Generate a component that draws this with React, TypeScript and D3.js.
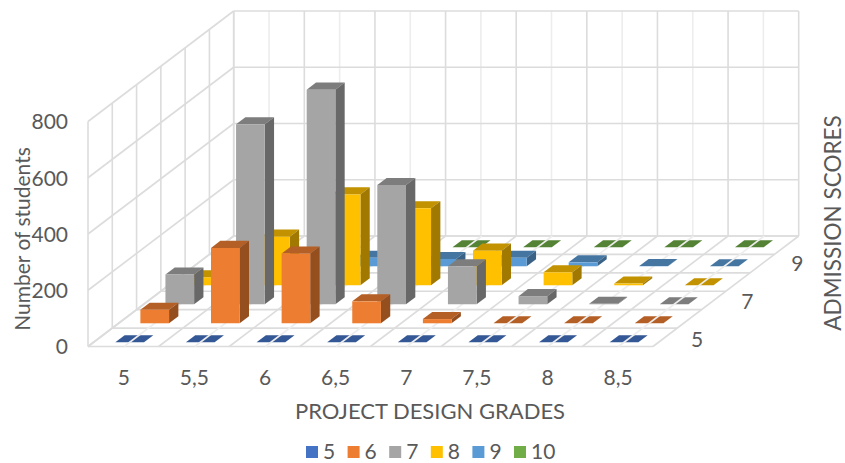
import React from "react";
import * as d3 from "d3";

// Grades along the width axis and admission scores along the depth axis.
const grades = ["5", "5,5", "6", "6,5", "7", "7,5", "8", "8,5"];
const scores = ["5", "6", "7", "8", "9", "10"];
const depthLabels = ["5", "7", "9"];
const valueTicks = [0, 200, 400, 600, 800];

// Number of students per grade, one list per admission score.
const score5 = [0, 0, 0, 0, 0, 0, 0, 0];
const score6 = [48, 268, 248, 78, 15, 0, 0, 0];
const score7 = [106, 640, 763, 424, 135, 29, 2, 0];
const score8 = [28, 173, 323, 274, 123, 46, 6, 0];
const score9 = [10, 20, 30, 26, 30, 14, 1, 0];
const score10 = [0, 0, 0, 0, 0, 0, 0, 0];
const seriesValues = [score5, score6, score7, score8, score9, score10];
const seriesColors = ["#4472c4", "#ed7d31", "#a5a5a5", "#ffc000", "#5b9bd5", "#70ad47"];

const WIDTH = 845;
const HEIGHT = 463;
const FONT = "Lato, 'Open Sans', sans-serif";
const TEXT = "#595959";
const GRID = "#dcdcdc";
const GRID_MINOR = "#ededed";

// Oblique 3D projection: x runs across the floor, z runs to the back wall.
const FLOOR_LEFT = 88;
const FLOOR_RIGHT = 653;
const FLOOR_FRONT = 346.5;
const DEPTH_X = 145.7;
const DEPTH_Y = 110.5;
const BAR_DEPTH = 0.064;

const xBand = d3.scaleBand<string>().domain(grades).range([FLOOR_LEFT, FLOOR_RIGHT]);
const zBand = d3.scaleBand<string>().domain(scores).range([0.038, 1.07]);
const heightScale = d3.scaleLinear().domain([0, 800]).range([0, 225]);
const barWidth = xBand.bandwidth() * 0.406;

const project = (x: number, z: number, h = 0): [number, number] => [
  x + DEPTH_X * z,
  FLOOR_FRONT - DEPTH_Y * z - h,
];
const pathOf = d3.line<[number, number]>();

const shade = (color: string, k: number) => {
  const c = d3.rgb(color);
  return d3.rgb(c.r * k, c.g * k, c.b * k).formatHex();
};

type Bar = { x: number; z: number; h: number; color: string; key: string };

function BarShape({ x, z, h, color }: Bar) {
  const x1 = x + barWidth;
  const z1 = z + BAR_DEPTH;
  return (
    <g>
      <path
        d={pathOf([project(x, z, h), project(x1, z, h), project(x1, z1, h), project(x, z1, h)]) + "Z"}
        fill={shade(color, 0.76)}
      />
      {h > 0 && (
        <path
          d={pathOf([project(x1, z, 0), project(x1, z1, 0), project(x1, z1, h), project(x1, z, h)]) + "Z"}
          fill={shade(color, 0.63)}
        />
      )}
      {h > 0 && (
        <path
          d={pathOf([project(x, z, 0), project(x1, z, 0), project(x1, z, h), project(x, z, h)]) + "Z"}
          fill={color}
        />
      )}
    </g>
  );
}

const Line = ({ a, b, color = GRID, w = 1.6 }: { a: [number, number]; b: [number, number]; color?: string; w?: number }) => (
  <line x1={a[0]} y1={a[1]} x2={b[0]} y2={b[1]} stroke={color} strokeWidth={w} />
);

export default function App() {
  const step = xBand.step();
  const bars: Bar[] = scores
    .flatMap((s, si) =>
      grades.map((g, gi) => ({
        key: `${s}-${g}`,
        x: (xBand(g) as number) + (step - barWidth) / 2 + 0.8,
        z: zBand(s) as number,
        h: heightScale(seriesValues[si][gi]),
        color: seriesColors[si],
      }))
    )
    .sort((a, b) => b.z - a.z);
  const flat = bars.filter((b) => b.h === 0);
  const raised = bars.filter((b) => b.h > 0);
  const wallTop = heightScale(800);
  const xEdges = d3.range(grades.length + 1).map((i) => FLOOR_LEFT + i * step);
  const xMids = grades.map((g) => (xBand(g) as number) + step / 2);
  const zEdges = d3.range(scores.length + 1).map((i) => i / scores.length);

  return (
    <svg
      width={WIDTH}
      height={HEIGHT}
      viewBox={`0 0 ${WIDTH} ${HEIGHT}`}
      style={{ position: "absolute", left: 0, top: 0, background: "#fff" }}
      fontFamily={FONT}
      fill={TEXT}
    >
      {/* Back wall */}
      {xMids.map((x) => (
        <Line key={x} a={project(x, 1)} b={project(x, 1, wallTop)} color={GRID_MINOR} />
      ))}
      {xEdges.map((x) => (
        <Line key={x} a={project(x, 1)} b={project(x, 1, wallTop)} />
      ))}
      {valueTicks.map((v) => (
        <Line key={v} a={project(FLOOR_LEFT, 1, heightScale(v))} b={project(FLOOR_RIGHT, 1, heightScale(v))} />
      ))}
      {/* Side wall */}
      {zEdges.map((z) => (
        <Line key={z} a={project(FLOOR_LEFT, z)} b={project(FLOOR_LEFT, z, wallTop)} />
      ))}
      {valueTicks.map((v) => (
        <Line key={v} a={project(FLOOR_LEFT, 0, heightScale(v))} b={project(FLOOR_LEFT, 1, heightScale(v))} />
      ))}
      {/* Floor */}
      {zEdges.map((z) => (
        <Line key={z} a={project(FLOOR_LEFT, z)} b={project(FLOOR_RIGHT, z)} />
      ))}
      {xEdges.map((x) => (
        <Line key={x} a={project(x, 0)} b={project(x, 1)} />
      ))}
      {flat.map((b) => (
        <BarShape {...b} key={b.key} />
      ))}
      {xMids.map((x) => (
        <Line key={x} a={project(x + 0.8, 0)} b={project(x + 0.8, 1)} color={GRID_MINOR} />
      ))}
      {raised.map((b) => (
        <BarShape {...b} key={b.key} />
      ))}

      {/* Axis labels */}
      <g fontSize={21}>
        {valueTicks.map((v) => (
          <text key={v} x={68} y={FLOOR_FRONT + 0.5 - heightScale(v)} dy="0.35em" textAnchor="end">
            {v}
          </text>
        ))}
        {grades.map((g) => (
          <text key={g} x={(xBand(g) as number) + step / 2 + 0.5} y={378} dy="0.35em" textAnchor="middle">
            {g}
          </text>
        ))}
        {depthLabels.map((s) => {
          const [px, py] = project(FLOOR_RIGHT, (zBand(s) as number) + BAR_DEPTH / 2);
          return (
            <text key={s} x={px + 34} y={py + 1} dy="0.35em" textAnchor="middle">
              {s}
            </text>
          );
        })}
      </g>

      {/* Axis titles */}
      <text x={430} y={411} dy="0.35em" textAnchor="middle" fontSize={22}>
        PROJECT DESIGN GRADES
      </text>
      <text transform="translate(23,239) rotate(-90)" dy="0.35em" textAnchor="middle" fontSize={21}>
        Number of students
      </text>
      <text transform="translate(833,223) rotate(-90)" dy="0.35em" textAnchor="middle" fontSize={22.5}>
        ADMISSION SCORES
      </text>

      {/* Legend */}
      <g fontSize={21}>
        {scores.map((s, i) => {
          const lx = 306 + i * 41.6;
          return (
            <g key={s}>
              <rect x={lx} y={446} width={12} height={12} fill={seriesColors[i]} />
              <text x={lx + 17} y={452} dy="0.35em">
                {s}
              </text>
            </g>
          );
        })}
      </g>
    </svg>
  );
}
